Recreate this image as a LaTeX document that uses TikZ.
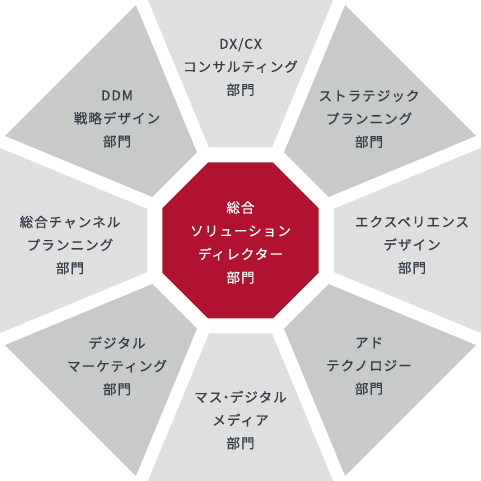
\documentclass[tikz,border=0pt]{standalone}
\usepackage{fontspec}
\setmainfont{Noto Sans CJK JP}[LetterSpace=8,FakeBold=0.7]
\definecolor{segA}{HTML}{DFDFDF}
\definecolor{segB}{HTML}{C8C9C9}
\definecolor{core}{HTML}{B1122F}
\definecolor{ink}{HTML}{343E48}
\begin{document}
\begin{tikzpicture}[x=1pt,y=1pt,
  lbl/.style={align=center, text=ink, font=\fontsize{13.5}{23}\selectfont, inner sep=0pt},
  corelbl/.style={lbl, text=white, font=\fontsize{13.5}{23.3}\selectfont}]
\useasboundingbox (-240.5,-240.5) rectangle (240.5,240.5);
\fill[white] (-240.5,-240.5) rectangle (240.5,240.5);
% axis segments
\foreach \a in {0,90,180,270}
  \fill[segA, rotate=\a] (-92.58,240.5) -- (92.58,240.5) -- (31.49,93) -- (-31.49,93) -- cycle;
% diagonal segments
\foreach \a in {45,135,225,315}
  \fill[segB, rotate=\a] (-92.58,240.5) -- (92.58,240.5) -- (31.49,93) -- (-31.49,93) -- cycle;
% central octagon
\fill[core] (22.5:84.43) -- (67.5:84.43) -- (112.5:84.43) -- (157.5:84.43) -- (202.5:84.43) -- (247.5:84.43) -- (292.5:84.43) -- (337.5:84.43) -- cycle;
% labels
\node[lbl] (dx)   at (0,173.5)      {DX/CX\\コンサルティング\\部門};
\node[lbl] (ddm)  at (-123.5,121.5) {DDM\\戦略デザイン\\部門};
\node[lbl] (str)  at (128.5,121.5)  {ストラテジック\\プランニング\\部門};
\node[lbl] (chn)  at (-170.5,-4.5)  {総合チャンネル\\プランニング\\部門};
\node[lbl] (exp)  at (171.5,-4.5)   {エクスペリエンス\\デザイン\\部門};
\node[lbl] (dig)  at (-123.5,-125.5){デジタル\\マーケティング\\部門};
\node[lbl] (ad)   at (128.5,-125.5) {アド\\テクノロジー\\部門};
\node[lbl] (mass) at (0,-179.5)     {マス\kern-3pt・\kern-3pt デジタル\\メディア\\部門};
\node[corelbl] (sol) at (0,-2)      {総合\\ソリューション\\ディレクター\\部門};
\end{tikzpicture}
\end{document}
